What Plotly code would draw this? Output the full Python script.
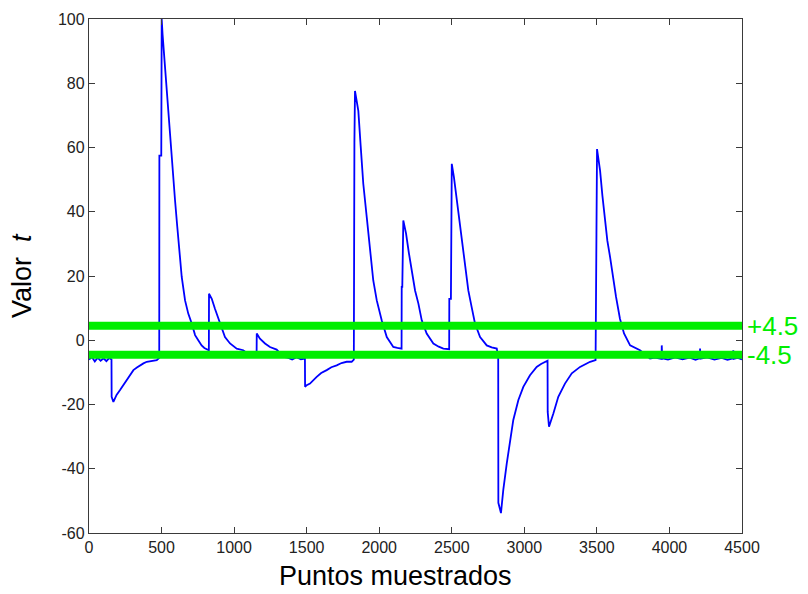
import plotly.graph_objects as go

sample_x = [
    0, 20, 40, 60, 80, 100, 120, 140, 155,
    156, 168, 190, 214, 240, 260, 285, 306, 330, 352, 375, 398, 430, 467, 484,
    485, 498, 501, 507, 517, 531, 540, 547, 558, 570, 581, 593, 608, 623, 639, 662, 684, 708, 731, 753, 776, 795, 811, 826,
    827, 846, 868, 891, 914, 937, 972, 1018, 1063, 1090, 1110, 1140, 1155,
    1156, 1178, 1213, 1247, 1293, 1339, 1370, 1400, 1430, 1460, 1488,
    1489, 1500, 1523, 1569, 1600, 1638, 1670, 1707, 1740, 1776, 1810, 1825,
    1826, 1829, 1833, 1856, 1872, 1890, 1914, 1937, 1959, 1983, 2017, 2052, 2097, 2125, 2154,
    2155, 2159, 2166, 2185, 2205, 2224, 2247, 2270, 2293, 2327, 2373, 2410, 2442, 2482,
    2483, 2494, 2500, 2515, 2529, 2545, 2568, 2591, 2614, 2637, 2660, 2695, 2741, 2775, 2810, 2820,
    2821, 2839, 2855, 2879, 2901, 2924, 2959, 2993, 3039, 3085, 3115, 3143, 3160,
    3161, 3170, 3200, 3234, 3280, 3327, 3384, 3420, 3453, 3491,
    3492, 3497, 3501, 3522, 3538, 3556, 3572, 3591, 3609, 3632, 3659, 3687, 3729, 3797, 3866,
    3900, 3946, 3947, 3950, 3990, 4040, 4090, 4140, 4180, 4210, 4211, 4214, 4260, 4310, 4360, 4400, 4439, 4440, 4443, 4470, 4500,
]
sample_y = [
    -6.0, -5.2, -6.6, -5.4, -6.4, -5.6, -6.5, -5.5, -6.0,
    -17.6, -19.2, -17.0, -15.5, -13.8, -12.4, -10.8, -9.3, -8.5, -7.8, -7.2, -6.7, -6.5, -6.2, -5.5,
    57.5, 57.5, 100.0, 95.2, 89.0, 81.8, 76.6, 70.4, 63.1, 55.9, 49.7, 43.5, 35.5, 28.0, 19.7, 12.4, 8.3, 5.2, 1.6, 0.0, -1.6, -2.4, -2.9, -3.1,
    14.5, 12.9, 9.8, 6.7, 3.6, 1.0, -1.0, -2.6, -3.1, -4.0, -4.7, -4.2, -4.6,
    2.1, 0.5, -1.0, -2.1, -2.9, -5.2, -5.4, -6.0, -5.3, -5.9, -5.7,
    -14.5, -14.0, -13.5, -11.4, -10.2, -9.3, -8.4, -7.8, -7.1, -6.7, -6.7, -6.0,
    61.6, 61.6, 77.6, 71.4, 60.6, 48.8, 38.3, 28.0, 18.6, 12.4, 6.2, 1.0, -2.1, -2.4, -2.6,
    16.6, 16.6, 37.3, 33.2, 27.0, 21.7, 15.5, 11.4, 6.2, 2.1, -1.0, -2.0, -2.6, -2.8,
    12.9, 12.9, 54.9, 50.7, 45.6, 40.4, 32.0, 23.8, 15.5, 10.3, 5.2, 1.0, -1.6, -2.2, -2.6, -5.2,
    -50.6, -53.8, -46.6, -38.3, -32.0, -24.8, -18.6, -14.5, -10.9, -8.3, -7.4, -6.7, -6.4,
    -22.3, -26.9, -22.8, -17.6, -13.5, -10.3, -8.3, -7.4, -6.7, -6.2,
    33.1, 33.1, 59.5, 52.8, 45.0, 37.3, 31.0, 25.9, 19.7, 13.5, 6.7, 2.1, -1.6, -3.1, -5.7,
    -5.4, -5.8, -1.6, -5.6, -6.0, -5.3, -5.9, -5.4, -6.1, -5.6, -2.6, -5.7, -5.3, -6.0, -5.5, -6.1, -5.6, -3.1, -5.8, -5.5, -6.0,
]

threshold_values = [4.5, -4.5]
threshold_labels = ["+4.5", "-4.5"]

x_tick_vals = [0, 500, 1000, 1500, 2000, 2500, 3000, 3500, 4000, 4500]
x_tick_text = ["0", "500", "1000", "1500", "2000", "2500", "3000", "3500", "4000", "4500"]
y_tick_vals = [-60, -40, -20, 0, 20, 40, 60, 80, 100]
y_tick_text = ["-60", "-40", "-20", "0", "20", "40", "60", "80", "100"]

x_title = "Puntos muestrados"
y_title = "Valor  <i>t</i>"

GREEN = "#00ee00"
AXIS = "#3a3a3a"
TICKFONT = dict(family="Liberation Sans Narrow, Arial Narrow, Liberation Sans, Arial", size=16, color="#222222")

fig = go.Figure()
fig.add_trace(go.Scatter(
    x=sample_x, y=sample_y, mode="lines",
    line=dict(color="#0000ff", width=1.8),
    showlegend=False, hoverinfo="skip",
))

for val, lab in zip(threshold_values, threshold_labels):
    fig.add_shape(type="line", xref="paper", yref="y", x0=0, x1=1, y0=val, y1=val,
                  line=dict(color=GREEN, width=8), layer="above")
    fig.add_annotation(xref="paper", yref="y", x=1, y=val, text=lab, showarrow=False,
                       xanchor="left", yanchor="middle", xshift=3,
                       font=dict(family="Liberation Sans, Arial", size=26, color=GREEN))

fig.add_annotation(xref="paper", yref="paper", x=0.5, y=0, text=x_title, showarrow=False,
                   xanchor="center", yanchor="top", yshift=-26, xshift=-20,
                   font=dict(family="Liberation Sans, Arial", size=27, color="#000000"))
fig.add_annotation(xref="paper", yref="paper", x=0, y=0.5, text=y_title, showarrow=False,
                   xanchor="center", yanchor="middle", xshift=-67, textangle=-90,
                   font=dict(family="Liberation Sans, Arial", size=27, color="#000000"))

fig.update_xaxes(range=[0, 4500], tickvals=x_tick_vals, ticktext=x_tick_text, ticks="inside", ticklen=6,
                 tickcolor=AXIS, showline=True, linecolor=AXIS, linewidth=1.3, mirror="ticks",
                 showgrid=False, zeroline=False, tickfont=TICKFONT, automargin=False)
fig.update_yaxes(range=[-60, 100], tickvals=y_tick_vals, ticktext=y_tick_text, ticks="inside", ticklen=6,
                 tickcolor=AXIS, showline=True, linecolor=AXIS, linewidth=1.3, mirror="ticks",
                 showgrid=False, zeroline=False, tickfont=TICKFONT, automargin=False)

# page body has an 8px margin, so the figure is drawn 8px smaller and offset
fig.update_layout(
    width=800, height=586,
    margin=dict(l=81, r=66, t=11, b=61),
    plot_bgcolor="white", paper_bgcolor="white",
)

fig.write_html("out.html")
